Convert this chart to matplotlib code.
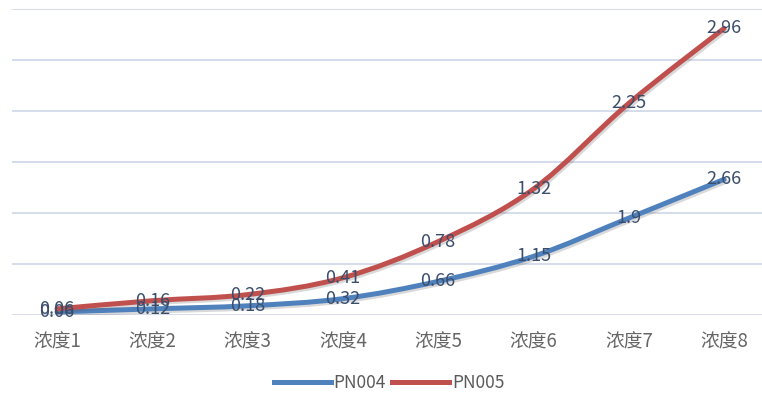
import matplotlib
matplotlib.use("Agg")
import matplotlib.pyplot as plt
from matplotlib.path import Path
from matplotlib.patches import PathPatch
from matplotlib.lines import Line2D
import matplotlib.patheffects as pe

plt.rcParams['font.family'] = ['Noto Sans CJK SC', 'DejaVu Sans']

categories = ['浓度1', '浓度2', '浓度3', '浓度4', '浓度5', '浓度6', '浓度7', '浓度8']
pn004 = [0.06, 0.12, 0.18, 0.32, 0.66, 1.15, 1.9, 2.66]
pn005 = [0.06, 0.16, 0.22, 0.41, 0.78, 1.32, 2.25, 2.96]
series_names = ['PN004', 'PN005']
series_colors = ['#4F81BD', '#C0504D']


def smooth_path(xs, ys):
    """Bezier path through the points (Catmull-Rom style control points)."""
    pts = list(zip(xs, ys))
    n = len(pts)
    verts = [pts[0]]
    codes = [Path.MOVETO]
    for i in range(n - 1):
        p0 = pts[i - 1] if i > 0 else pts[i]
        p1 = pts[i]
        p2 = pts[i + 1]
        p3 = pts[i + 2] if i + 2 < n else pts[i + 1]
        c1 = (p1[0] + (p2[0] - p0[0]) / 6, p1[1] + (p2[1] - p0[1]) / 6)
        c2 = (p2[0] - (p3[0] - p1[0]) / 6, p2[1] - (p3[1] - p1[1]) / 6)
        verts += [c1, c2, p2]
        codes += [Path.CURVE4] * 3
    return Path(verts, codes)


W, H = 762, 396
fig = plt.figure(figsize=(W / 100, H / 100), dpi=100)
ax = fig.add_axes([12 / W, 81 / H, 750 / W, 306 / H])

x = list(range(len(categories)))
# stacked series
stack1 = pn004
stack2 = [a + b for a, b in zip(pn004, pn005)]

ax.set_xlim(-0.472, 7.398)
ax.set_ylim(0, 6)
ax.set_yticks(range(0, 7))
ax.grid(axis='y', color='#D5DDEA', linewidth=1.4)
ax.set_axisbelow(True)
for s in ax.spines.values():
    s.set_visible(False)
ax.tick_params(axis='y', left=False, labelleft=False)
ax.set_xticks(x)
ax.set_xticklabels(categories, fontsize=13.5, color='#666666')
ax.tick_params(axis='x', length=0, pad=12)

shadow = [pe.SimpleLineShadow(offset=(1.2, -1.5), alpha=0.22, shadow_color='#555555'),
          pe.Normal()]

for ys, color in zip([stack1, stack2], series_colors):
    patch = PathPatch(smooth_path(x, ys), fill=False, edgecolor=color,
                      linewidth=3.6, capstyle='round', joinstyle='round',
                      path_effects=shadow, zorder=3)
    ax.add_patch(patch)

label_color = '#3A4D6B'
for vals, ys in zip([pn004, pn005], [stack1, stack2]):
    for xi, v, y in zip(x, vals, ys):
        ax.text(xi, y, f"{v:g}" if v >= 1 and round(v, 1) == v else f"{v:.2f}",
                ha='center', va='center', fontsize=13, color=label_color,
                zorder=4, clip_on=False)

handles = [Line2D([], [], color=c, linewidth=3.6) for c in series_colors]
fig.legend(handles, series_names, loc='center',
           bbox_to_anchor=(389 / W, 1 - 383 / H), ncol=2, frameon=False,
           fontsize=12.5, labelcolor='#595959', handlelength=3.3,
           handletextpad=0.15, columnspacing=0.35)

fig.savefig('out.png', dpi=100, facecolor='white')
